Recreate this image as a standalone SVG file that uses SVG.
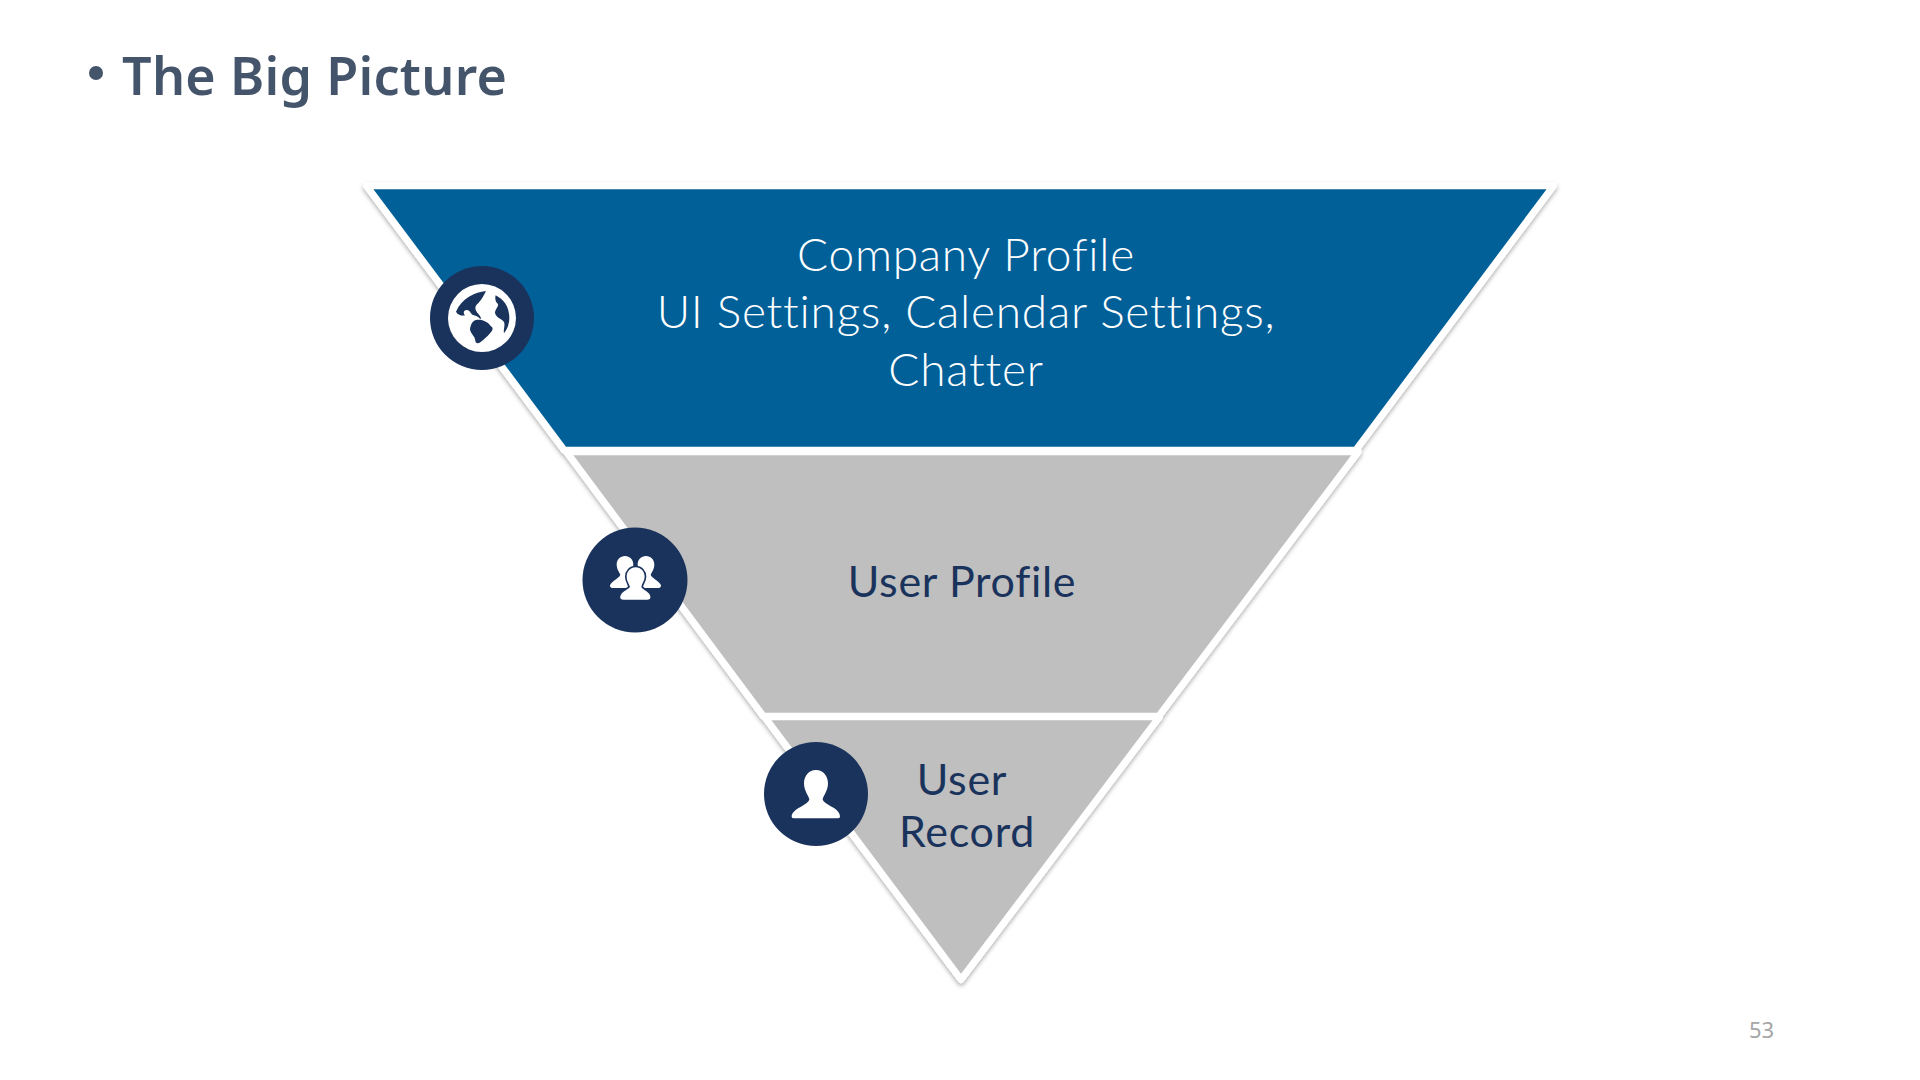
<svg xmlns="http://www.w3.org/2000/svg" width="1920" height="1080" viewBox="0 0 1920 1080">
<style>
.seg{stroke:#fff;stroke-width:7;stroke-linejoin:round}
.sil{fill:#fff;stroke:#fff;stroke-width:7;stroke-linejoin:round}
.badge{fill:#1a335c}
.ic{fill:#fff}
.lbl{font-family:"Lato","Liberation Sans",sans-serif;text-anchor:middle;font-variant-ligatures:none}
.w{fill:#fff;font-size:46px;font-weight:300;letter-spacing:.75px}
.d{fill:#1a335c;font-size:43px;font-weight:400;letter-spacing:.7px}
</style>
<defs><filter id="sh" x="-5%" y="-5%" width="110%" height="110%"><feDropShadow dx="0" dy="2.5" stdDeviation="2" flood-color="#000" flood-opacity=".32"/></filter>
<path id="back" d="M195 378C210 378 220 390 220 404C220 416 212 424 210 434C212 442 226 450 232 458C240 468 238 474 228 474L160 474C150 474 148 468 152 462C160 450 178 444 181 434C176 424 170 416 170 404C170 390 180 378 195 378Z"/></defs>
<rect width="1920" height="1080" fill="#fff"/>
<g id="title"><circle cx="96" cy="73" r="7" fill="#44546a"/><text x="122" y="95" font-family="'Noto Sans','Noto Sans CJK SC',sans-serif" font-weight="600" font-size="52" letter-spacing=".3" fill="#44546a">The Big Picture</text></g>
<g id="shadow" filter="url(#sh)"><polygon class="sil" points="764.5,716.75 1159.5,716.75 961,979.5"/><polygon class="sil" points="566.5,451.75 1358.2,451.75 1158.6,716.25 763.4,716.25"/><polygon class="sil" points="366.5,185.75 1553.5,185.75 1355.7,450.25 564.3,450.25"/></g>
<g id="tier-bottom"><polygon class="seg" fill="#bfbfbf" points="764.5,716.75 1159.5,716.75 961,979.5"/><text class="lbl d"><tspan x="962" y="795">User</tspan><tspan x="967" y="847">Record</tspan></text></g>
<g id="tier-middle"><polygon class="seg" fill="#bfbfbf" points="566.5,451.75 1358.2,451.75 1158.6,716.25 763.4,716.25"/><text class="lbl d" x="962" y="597">User Profile</text></g>
<g id="tier-top"><polygon class="seg" fill="#026099" points="366.5,185.75 1553.5,185.75 1355.7,450.25 564.3,450.25"/><text class="lbl w"><tspan x="966" y="271">Company Profile</tspan><tspan x="966" y="328">UI Settings, Calendar Settings,</tspan><tspan x="966" y="386">Chatter</tspan></text></g>
<g id="badge-globe"><circle class="badge" cx="482" cy="318" r="52"/><g transform="translate(350 170) scale(.3333)"><circle class="ic" cx="396" cy="444" r="102"/><path class="badge" d="M408 363C375 366 335 385 318 425C325 437 338 438 345 436C338 428 342 418 352 420C362 422 362 434 372 436C382 438 388 444 392 448C396 440 384 432 380 425C372 412 378 405 386 398C394 390 402 376 408 363ZM360 478C362 466 366 452 378 450C392 448 410 452 422 468C432 474 428 482 420 490C412 500 402 508 392 516C384 522 376 520 376 512C376 500 362 492 360 478ZM437 376C460 388 478 408 478 444C478 462 472 478 462 490C460 478 466 466 462 456C456 446 442 446 436 432C432 420 446 412 444 402C438 398 434 388 437 376Z"/></g></g>
<g id="badge-users"><circle class="badge" cx="635" cy="580" r="52.5"/><g transform="translate(560 430) scale(.3333)"><use href="#back" class="ic"/><use href="#back" class="ic" transform="translate(453 0) scale(-1 1)"/><path class="ic" stroke="#1a335c" stroke-width="10" paint-order="stroke" d="M227 412C243 412 254 425 254 440C254 452 246 460 244 470C246 478 262 482 268 492C274 502 272 509 262 509L190 509C180 509 178 502 184 492C190 482 206 478 210 470C206 460 200 452 200 440C200 425 211 412 227 412Z"/></g></g>
<g id="badge-user"><circle class="badge" cx="816" cy="794" r="52"/><g transform="translate(740 700) scale(.3333)"><path class="ic" d="M228 210C250 210 264 228 264 250C264 272 252 285 248 297C248 305 262 312 278 322C292 330 300 340 300 350Q300 356 290 355L165 355Q155 356 155 350C155 340 165 330 180 322C196 312 208 305 208 297C204 285 192 272 192 250C192 228 206 210 228 210Z"/></g></g>
<text id="page" x="1749" y="1038" font-family="'Noto Sans',sans-serif" font-size="22" fill="#a6a6a6">53</text>
</svg>
